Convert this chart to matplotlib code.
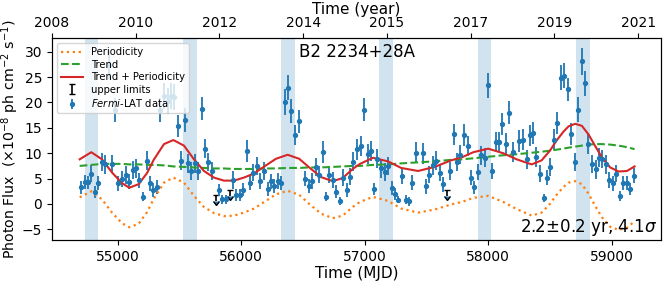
import matplotlib
matplotlib.use("Agg")
import matplotlib.pyplot as plt

# Fermi-LAT light curve (MJD, flux in 1e-8 ph cm^-2 s^-1, error)
mjd = [54699, 54734, 54760, 54784, 54814, 54841, 54868, 54895, 54925, 54949,
       54978, 55003, 55030, 55065, 55092, 55119, 55146, 55172, 55200, 55232,
       55259, 55285, 55313, 55340, 55372, 55402, 55428, 55455, 55483, 55509,
       55542, 55568, 55596, 55622, 55649, 55679, 55706, 55733, 55762, 55819,
       55846, 55873, 55932, 55959, 55986, 56016, 56043, 56069, 56097, 56123,
       56150, 56182, 56212, 56239, 56266, 56293, 56323, 56350, 56379, 56406,
       56436, 56463, 56519, 56546, 56576, 56602, 56632, 56659, 56686, 56713,
       56743, 56770, 56796, 56826, 56853, 56880, 56907, 56937, 56966, 56994,
       57023, 57050, 57077, 57103, 57133, 57163, 57190, 57217, 57246, 57273,
       57301, 57333, 57357, 57386, 57414, 57470, 57497, 57524, 57551, 57578,
       57608, 57637, 57693, 57721, 57747, 57774, 57804, 57834, 57861, 57887,
       57915, 57944, 57974, 58000, 58028, 58060, 58087, 58113, 58141, 58170,
       58197, 58251, 58281, 58311, 58337, 58364, 58391, 58420, 58450, 58477,
       58504, 58534, 58561, 58588, 58618, 58644, 58671, 58701, 58731, 58757,
       58784, 58812, 58844, 58871, 58897, 58925, 58954, 58981, 59008, 59038,
       59064, 59091, 59121, 59148, 59178]
flux = [3.3, 4.3, 4.3, 6.0, 2.4, 4.2, 8.3, 7.8, 27.4, 7.9,
        18.5, 4.1, 4.9, 5.7, 4.4, 6.7, 7.0, 4.7, 1.4, 8.5,
        4.1, 2.8, 3.3, 18.5, 21.3, 20.3, 21.3, 21.1, 15.4, 8.5,
        16.5, 8.0, 6.5, 8.0, 6.5, 18.8, 10.9, 8.3, 6.5, 2.8,
        0.9, 0.9, 4.7, 1.7, 1.7, 2.8, 10.5, 4.2, 6.2, 7.5,
        4.5, 6.5, 2.9, 4.5, 3.5, 4.5, 4.2, 20.1, 22.9, 18.3,
        13.6, 16.3, 5.0, 3.5, 4.5, 7.3, 5.8, 10.2, 1.4, 5.8,
        4.7, 2.4, 0.5, 5.2, 2.8, 5.4, 8.3, 10.8, 11.4, 18.6,
        9.8, 10.4, 2.9, 8.9, 7.0, 6.3, 7.5, 3.2, 1.9, 0.8,
        5.5, 0.8, 0.5, 4.2, 10.1, 10.0, 3.5, 5.8, 7.6, 8.5,
        6.2, 3.9, 6.5, 13.7, 8.3, 9.7, 13.6, 11.4, 5.2, 3.3,
        6.3, 9.6, 9.1, 23.4, 6.5, 12.2, 12.2, 15.7, 11.9, 18.0,
        10.2, 12.4, 12.7, 8.8, 13.5, 14.0, 9.3, 6.0, 1.2, 5.2,
        7.3, 12.7, 15.9, 24.9, 25.3, 22.6, 13.8, 8.3, 18.6, 28.1,
        23.8, 11.9, 7.9, 6.8, 9.1, 8.9, 7.8, 4.7, 4.1, 6.0,
        1.6, 4.1, 4.1, 2.9, 5.6]
flux_err = [1.3, 1.4, 1.3, 1.6, 1.2, 1.4, 1.8, 1.9, 2.8, 1.8,
            2.4, 1.5, 1.6, 1.7, 1.5, 1.8, 1.9, 1.5, 0.9, 1.9,
            1.5, 1.4, 1.4, 2.3, 2.6, 2.5, 2.6, 2.5, 2.2, 1.9,
            2.4, 1.9, 1.8, 1.9, 1.7, 2.3, 1.9, 1.8, 1.7, 1.2,
            0.9, 0.9, 1.7, 1.2, 1.2, 1.3, 2.2, 1.5, 1.7, 1.8,
            1.6, 1.7, 1.4, 1.5, 1.4, 1.6, 1.4, 2.5, 2.5, 2.4,
            2.0, 2.3, 1.5, 1.4, 1.6, 1.8, 1.7, 2.2, 0.9, 1.6,
            1.6, 1.3, 0.8, 1.6, 1.4, 1.6, 1.9, 2.1, 2.0, 2.3,
            2.0, 2.0, 1.2, 1.9, 1.8, 1.7, 1.8, 1.4, 1.2, 0.7,
            1.6, 0.9, 0.9, 1.5, 2.1, 2.1, 1.5, 1.7, 1.8, 1.9,
            1.7, 1.5, 1.7, 2.1, 1.8, 1.9, 2.1, 2.0, 1.5, 1.3,
            1.6, 1.9, 1.9, 2.5, 1.6, 2.0, 2.0, 2.2, 2.0, 2.2,
            2.0, 2.1, 2.0, 1.9, 2.1, 2.1, 2.0, 1.7, 0.8, 1.5,
            1.7, 2.0, 2.2, 2.4, 2.4, 2.3, 2.1, 1.8, 2.4, 2.6,
            2.5, 2.1, 1.8, 1.8, 1.9, 1.8, 1.8, 1.6, 1.5, 1.6,
            1.0, 1.4, 1.4, 1.2, 1.5]

# upper limits
ul_mjd = [55792, 55905, 57664]
ul_flux = [1.7, 2.8, 2.8]

# fitted model curves
curve_mjd = [54690, 54784, 54871, 54952, 55033, 55092, 55168, 55236, 55290, 55373,
             55449, 55535, 55616, 55697, 55778, 55859, 55940, 56021, 56102, 56199,
             56280, 56375, 56469, 56550, 56645, 56740, 56821, 56902, 56961, 57066,
             57188, 57295, 57431, 57566, 57700, 57787, 57879, 58000, 58122, 58230,
             58352, 58433, 58500, 58554, 58608, 58651, 58705, 58759, 58813, 58867,
             58921, 58988, 59056, 59124, 59186]
trend = [7.5, 7.7, 7.9, 7.9, 7.9, 7.8, 7.8, 7.7, 7.7, 7.6,
         7.4, 7.3, 7.2, 7.1, 7.0, 7.0, 6.9, 6.9, 6.9, 7.0,
         7.0, 7.1, 7.1, 7.2, 7.2, 7.3, 7.4, 7.5, 7.5, 7.7,
         7.8, 8.0, 8.2, 8.4, 8.7, 8.8, 9.0, 9.3, 9.6, 9.8,
         10.1, 10.3, 10.5, 10.7, 10.9, 11.1, 11.3, 11.5, 11.7, 11.8,
         11.8, 11.7, 11.5, 11.2, 10.8]
periodicity = [1.3, 2.5, 0.9, -1.7, -3.8, -4.6, -3.9, -1.6, 1.0, 4.2,
               5.2, 4.2, 1.6, -0.6, -1.8, -2.4, -2.3, -1.7, -0.9, 0.6,
               1.9, 2.6, 1.8, 0.0, -1.9, -2.8, -2.3, -0.6, 0.4, 1.4,
               0.6, -0.9, -1.7, -1.1, -0.1, 0.4, 1.2, 1.6, 0.4, -1.0,
               -2.3, -1.7, 0.0, 1.8, 3.3, 4.2, 4.5, 3.9, 2.0, -0.4,
               -2.6, -4.5, -5.1, -4.7, -3.4]
trend_periodicity = [8.8, 10.2, 8.8, 6.2, 4.1, 3.2, 3.9, 6.1, 8.7, 11.8,
                     12.6, 11.5, 8.8, 6.5, 5.2, 4.6, 4.6, 5.2, 6.0, 7.6,
                     8.9, 9.7, 8.9, 7.2, 5.3, 4.5, 5.1, 6.9, 7.9, 9.1,
                     8.4, 7.1, 6.5, 7.3, 8.6, 9.2, 10.2, 10.9, 10.0, 8.8,
                     7.8, 8.6, 10.5, 12.5, 14.2, 15.3, 15.8, 15.4, 13.7, 11.4,
                     9.2, 7.2, 6.4, 6.5, 7.4]

# shaded intervals (MJD)
band_start = [54733, 55527, 56321, 57115, 57917, 58710]
band_end = [54839, 55641, 56434, 57228, 58022, 58824]

# top axis: decimal years of ticks and their labels
top_years = [2008.0, 2009.857, 2011.714, 2013.571, 2015.429, 2017.286, 2019.143, 2021.0]
top_labels = ["2008", "2010", "2012", "2014", "2015", "2017", "2019", "2021"]

fig, ax = plt.subplots(figsize=(6.67, 2.82), dpi=100)
fig.subplots_adjust(left=0.078, right=0.991, top=0.865, bottom=0.149)

for s, e in zip(band_start, band_end):
    ax.axvspan(s, e, color="C0", alpha=0.2, lw=0)

# upper limits first so they come before the data in the legend
ax.errorbar(ul_mjd, ul_flux, yerr=1.2, uplims=True, fmt="none", ecolor="k",
            elinewidth=1.2, capsize=2, label="upper limits")
ax.errorbar(mjd, flux, yerr=flux_err, fmt="o", ms=2.8, color="C0",
            elinewidth=1.3, label=r"$\it{Fermi}$-LAT data")

ax.plot(curve_mjd, periodicity, ":", color="C1", lw=1.6, label="Periodicity")
ax.plot(curve_mjd, trend, "--", color="C2", lw=1.5, label="Trend")
ax.plot(curve_mjd, trend_periodicity, "-", color="C3", lw=1.5, label="Trend + Periodicity")

ax.set_xlim(54466, 59400)
ax.set_ylim(-7.1, 32.7)
ax.set_yticks([-5, 0, 5, 10, 15, 20, 25, 30])
ax.set_xticks([55000, 56000, 57000, 58000, 59000])
ax.tick_params(labelsize=10)
ax.set_xlabel("Time (MJD)", fontsize=11, labelpad=2)
ax.set_ylabel(r"Photon Flux  ($\times10^{-8}$ ph cm$^{-2}$ s$^{-1}$)", fontsize=10.2, labelpad=1)

ax.text(0.5, 0.975, "B2 2234+28A", transform=ax.transAxes, ha="center", va="top", fontsize=12)
ax.text(0.993, 0.01, r"2.2±0.2 yr, 4.1$\sigma$", transform=ax.transAxes,
        ha="right", va="bottom", fontsize=12)

ax.legend(loc="upper left", fontsize=7.2, labelspacing=0.25, handlelength=2.2,
          borderpad=0.4, bbox_to_anchor=(0.0, 1.0))

ax_top = ax.twiny()
ax_top.set_xlim(ax.get_xlim())
ax_top.set_xticks([54466 + (y - 2008) * 365.25 for y in top_years])
ax_top.set_xticklabels(top_labels)
ax_top.tick_params(labelsize=10, pad=2)
ax_top.set_xlabel("Time (year)", fontsize=11, labelpad=2)

fig.savefig("out.png", dpi=100)
